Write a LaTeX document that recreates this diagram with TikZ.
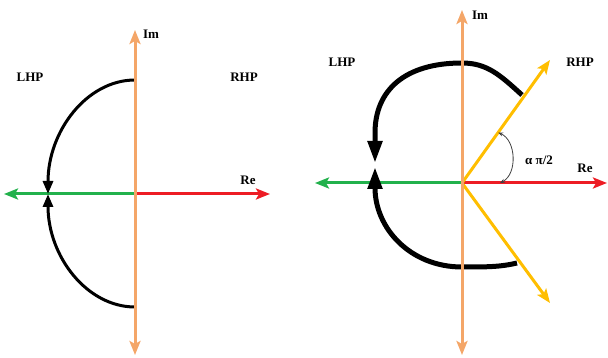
\documentclass[tikz,border=0pt]{standalone}
\usepackage{fontspec}
\setmainfont{Liberation Serif}
\usepackage{tikz}
\usetikzlibrary{arrows.meta, positioning, calc}
\usepackage{xcolor}
\definecolor{imorange}{RGB}{244,166,104}
\definecolor{lhpgreen}{RGB}{34,177,76}
\definecolor{rhpred}{RGB}{237,28,36}
\definecolor{rayyellow}{RGB}{255,190,0}

\begin{document}
\begin{tikzpicture}[x=1pt, y=1pt,
  axis/.style={line width=3pt, -{Stealth[length=14pt, width=11pt, inset=3pt]}},
  imaxis/.style={line width=3pt, imorange, {Stealth[length=14pt, width=11pt, inset=3pt]}-{Stealth[length=14pt, width=11pt, inset=3pt]}},
  contour/.style={line width=3pt, black, -{Triangle[length=13pt, width=10pt]}},
  bigcontour/.style={line width=5pt, black, -{Triangle[length=22pt, width=14pt]}},
  lbl/.style={font=\fontsize{13}{15}\selectfont\bfseries, inner sep=0pt}]
  \useasboundingbox (0,0) rectangle (608,358);
  % Left plane
  \coordinate (oL) at (135,164);
  \coordinate (reL-) at (4,164);
  \coordinate (reL+) at (270,164);
  \coordinate (imL-) at (135,3);
  \coordinate (imL+) at (135,328);
  \draw[axis, lhpgreen] (oL) -- (reL-);
  \draw[axis, rhpred] (oL) -- (reL+);
  \draw[contour] (135,278) arc[start angle=90, end angle=180, x radius=87, y radius=114];
  \draw[contour] (135,51) arc[start angle=270, end angle=180, x radius=87, y radius=113];
  \draw[imaxis] (imL-) -- (imL+);
  \node[lbl] (imL) at (151,324) {Im};
  \node[lbl] (lhpL) at (30,281) {LHP};
  \node[lbl] (rhpL) at (244,281) {RHP};
  \node[lbl] (reL) at (248,178) {Re};
  % Right plane
  \coordinate (oR) at (462,175);
  \coordinate (reR-) at (315,175);
  \coordinate (reR+) at (607,175);
  \coordinate (imR-) at (462,3);
  \coordinate (imR+) at (462,348);
  \coordinate (rayU) at (550,298);
  \coordinate (rayD) at (550,55);
  \draw[axis, lhpgreen] (oR) -- (reR-);
  \draw[axis, rhpred] (oR) -- (reR+);
  \draw[line width=3pt, rayyellow, -{Stealth[length=14pt, width=11pt, inset=3pt]}] (oR) -- (rayU);
  \draw[line width=3pt, rayyellow, -{Stealth[length=14pt, width=11pt, inset=3pt]}] (oR) -- (rayD);
  \draw[bigcontour] (522,263) .. controls (500,283) and (487,295) .. (462,295)
    .. controls (405,295) and (375,268) .. (375,225) -- (375,195);
  \draw[bigcontour] (517,95) .. controls (500,91) and (487,91) .. (462,91)
    .. controls (410,91) and (375,130) .. (375,191);
  \draw[imaxis] (imR-) -- (imR+);
  % angle
  \coordinate (angU) at ($(oR)!0.41!(rayU)$);
  \coordinate (angD) at (500,175);
  \draw[black!75, line width=0.8pt, {Stealth[length=5pt, width=4pt]}-{Stealth[length=5pt, width=4pt]}] (angU) to[bend left=65] (angD);
  \node[lbl] (alpha) at (539,198) {α π/2};
  \node[lbl] (imR) at (480,343) {Im};
  \node[lbl] (lhpR) at (342,296) {LHP};
  \node[lbl] (rhpR) at (580,296) {RHP};
  \node[lbl] (reR) at (585,190) {Re};
\end{tikzpicture}
\end{document}
